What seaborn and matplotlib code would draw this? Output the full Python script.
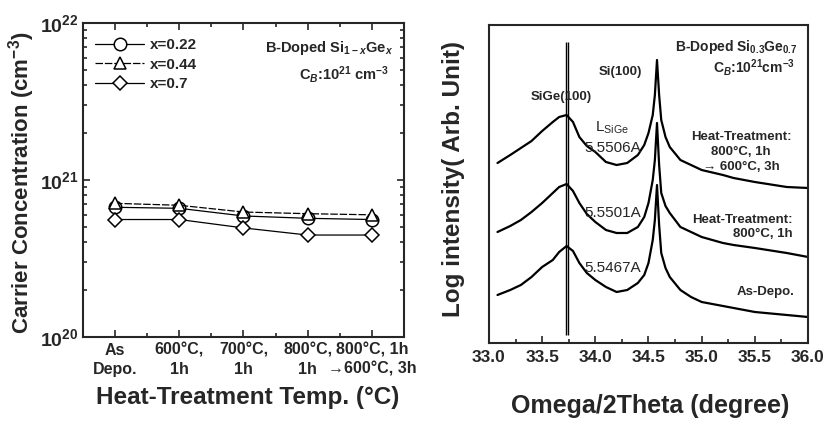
import numpy as np
import pandas as pd
import matplotlib
matplotlib.use("Agg")
import matplotlib.pyplot as plt
import seaborn as sns
from matplotlib.ticker import FixedLocator, FixedFormatter, LogLocator, NullFormatter, MultipleLocator

# ---------------- data: left panel ----------------
categories = ["As\nDepo.", "600°C,\n1h", "700°C,\n1h", "800°C,\n1h", "800°C, 1h\n→600°C, 3h"]
conc_x022 = [6.7e20, 6.6e20, 5.9e20, 5.7e20, 5.6e20]
conc_x044 = [7.1e20, 6.9e20, 6.25e20, 6.1e20, 6.0e20]
conc_x07 = [5.6e20, 5.6e20, 4.95e20, 4.46e20, 4.46e20]
series_labels = ["x=0.22", "x=0.44", "x=0.7"]
ytick_vals = [1e20, 1e21, 1e22]
ytick_labels = [r"$10^{20}$", r"$10^{21}$", r"$10^{22}$"]

# ---------------- data: right panel (arbitrary units) ----------------
two_theta = [33.08, 33.2, 33.3, 33.4, 33.5, 33.6, 33.66, 33.73, 33.79, 33.85, 33.92,
             34.0, 34.1, 34.2, 34.3, 34.4, 34.46, 34.5, 34.54, 34.56, 34.58, 34.6,
             34.62, 34.66, 34.7, 34.8, 34.9, 35.0, 35.2, 35.3, 35.5, 35.8, 36.0]
int_800_600 = [180, 188, 195, 202, 212, 221, 226, 228, 221, 206, 197,
               191, 181, 178, 180, 188, 198, 210, 228, 248, 283, 248,
               223, 206, 196, 183, 178, 173, 168, 165, 161, 156, 155]
int_800 = [111, 117, 123, 131, 140, 150, 156, 159, 152, 140, 129,
           121, 113, 110, 110, 116, 126, 140, 163, 183, 220, 178,
           150, 137, 130, 116, 111, 106, 100, 98, 95, 90, 86]
int_asdepo = [48, 53, 58, 66, 76, 83, 91, 97, 92, 80, 70,
              63, 56, 51, 53, 60, 68, 80, 103, 123, 158, 118,
              90, 75, 66, 53, 46, 41, 37, 35, 31, 28, 26]
sige_lines = [33.725, 33.745]
lattice_labels = ["5.5506A", "5.5501A", "5.5467A"]

# ---------------- style ----------------
sns.set_theme(style="ticks")
plt.rcParams["font.family"] = ["Liberation Sans", "DejaVu Sans"]
plt.rcParams["font.weight"] = "bold"
plt.rcParams["mathtext.fontset"] = "custom"
plt.rcParams["mathtext.rm"] = "Liberation Sans:bold"
plt.rcParams["mathtext.bf"] = "Liberation Sans:bold"
plt.rcParams["mathtext.it"] = "Liberation Sans:bold:italic"
plt.rcParams["axes.linewidth"] = 1.5

fig = plt.figure(figsize=(8.25, 4.21), dpi=100)
ax1 = fig.add_axes([0.1006, 0.1995, 0.389, 0.746])
ax2 = fig.add_axes([0.5927, 0.1853, 0.3867, 0.7553])

# ---------------- left panel ----------------
pos = list(range(len(categories)))
styles = [("o", "-"), ("^", (0, (6, 1.5))), ("D", "-")]
for vals, lab, (mk, ls) in zip([conc_x022, conc_x044, conc_x07], series_labels, styles):
    ms = 7.5 if mk == "D" else 9
    sns.lineplot(x=pos, y=vals, ax=ax1, color="black", lw=0.9, linestyle=ls,
                 marker=mk, markersize=ms, markerfacecolor="white",
                 markeredgecolor="black", markeredgewidth=1.1, label=lab)
ax1.set_yscale("log")
ax1.set_ylim(1e20, 1e22)
ax1.set_xlim(-0.5, 4.5)
ax1.yaxis.set_major_locator(FixedLocator(ytick_vals))
ax1.yaxis.set_major_formatter(FixedFormatter(ytick_labels))
ax1.yaxis.set_minor_locator(LogLocator(base=10, subs=np.arange(2, 10)))
ax1.yaxis.set_minor_formatter(NullFormatter())
ax1.set_xticks(pos)
ax1.set_xticklabels(categories, fontsize=11.5, fontweight="bold", linespacing=1.35)
ax1.xaxis.set_minor_locator(MultipleLocator(0.5))
ax1.tick_params(axis="both", which="both", direction="in", top=True, right=True, width=1.2)
ax1.tick_params(axis="both", which="major", length=5)
ax1.tick_params(axis="both", which="minor", length=3)
ax1.tick_params(axis="y", which="major", labelsize=14, pad=3)
ax1.tick_params(axis="x", which="major", pad=4)
ax1.set_ylabel("Carrier Concentration (cm$^{-3}$)", fontsize=16, fontweight="bold")
ax1.yaxis.set_label_coords(-0.143, 0.49)
ax1.set_xlabel("Heat-Treatment Temp. (°C)", fontsize=17.5, fontweight="bold")
ax1.xaxis.set_label_coords(0.514, -0.155)
leg = ax1.legend(loc="upper left", frameon=False, fontsize=11, handlelength=3.2,
                 handletextpad=0.4, labelspacing=0.35, borderaxespad=0.3,
                 bbox_to_anchor=(0.005, 0.985))
for t in leg.get_texts():
    t.set_fontweight("bold")
ax1.text(0.965, 0.92, "B-Doped Si$_{1-x}$Ge$_x$", transform=ax1.transAxes,
         ha="right", va="center", fontsize=10.5, fontweight="bold")
ax1.text(0.955, 0.835, "C$_B$:10$^{21}$ cm$^{-3}$", transform=ax1.transAxes,
         ha="right", va="center", fontsize=10.5, fontweight="bold")

# ---------------- right panel ----------------
for curve in [int_800_600, int_800, int_asdepo]:
    sns.lineplot(x=two_theta, y=curve, ax=ax2, color="black", lw=1.6, sort=False)
ax2.vlines(sige_lines, 8, 301, color="black", lw=1.0)
ax2.set_xlim(33.0, 36.0)
ax2.set_ylim(0, 318)
ax2.set_yticks([])
ax2.xaxis.set_major_locator(MultipleLocator(0.5))
ax2.xaxis.set_minor_locator(MultipleLocator(0.25))
ax2.tick_params(axis="x", which="both", direction="in", width=1.2, labelsize=12.5)
ax2.tick_params(axis="x", which="major", length=5, pad=5)
ax2.tick_params(axis="x", which="minor", length=3)
for lbl in ax2.get_xticklabels():
    lbl.set_fontweight("bold")
ax2.set_xlabel("Omega/2Theta (degree)", fontsize=18, fontweight="bold")
ax2.xaxis.set_label_coords(0.505, -0.16)
ax2.set_ylabel("Log intensity( Arb. Unit)", fontsize=17.5, fontweight="bold")
ax2.yaxis.set_label_coords(-0.075, 0.516)

ax2.text(35.9, 296, "B-Doped Si$_{0.3}$Ge$_{0.7}$", ha="right", va="center", fontsize=10, fontweight="bold")
ax2.text(35.88, 276, "C$_B$:10$^{21}$cm$^{-3}$", ha="right", va="center", fontsize=10, fontweight="bold")
ax2.text(34.24, 271, "Si(100)", ha="center", va="center", fontsize=9.5, fontweight="bold")
ax2.text(33.68, 246, "SiGe(100)", ha="center", va="center", fontsize=9.5, fontweight="bold")
ax2.text(34.0, 215, "L$_{\\mathregular{SiGe}}$", ha="left", va="center", fontsize=11, fontweight="normal")
for lab, yv in zip(lattice_labels, [195, 130, 75]):
    ax2.text(34.16, yv, lab, ha="center", va="center", fontsize=11, fontweight="normal")
ax2.text(35.37, 191, "Heat-Treatment:\n800°C, 1h\n→ 600°C, 3h", ha="center", va="center",
         fontsize=9.5, fontweight="bold", linespacing=1.3)
ax2.text(35.86, 116, "Heat-Treatment:\n800°C, 1h", ha="right", va="center",
         fontsize=9.5, fontweight="bold", linespacing=1.3)
ax2.text(35.87, 51, "As-Depo.", ha="right", va="center", fontsize=9.5, fontweight="bold")

fig.savefig("out.png", dpi=100)
